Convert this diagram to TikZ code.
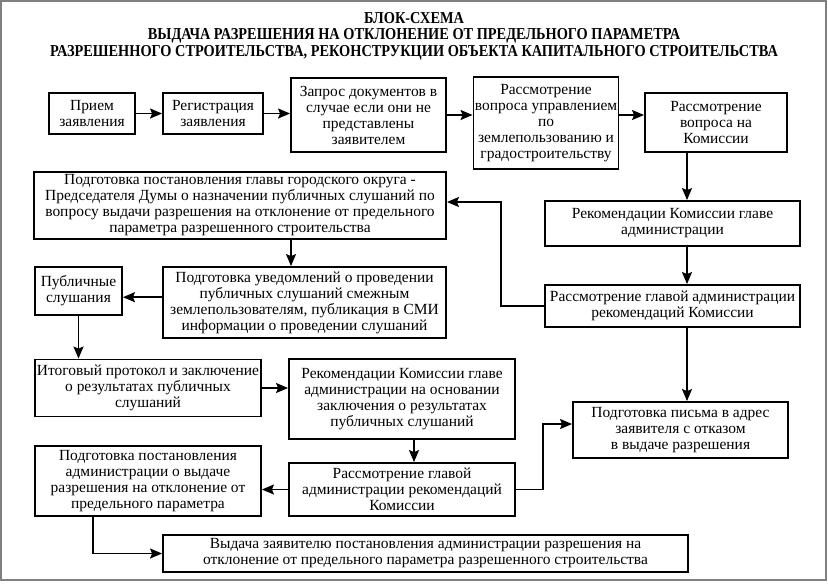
\documentclass[tikz,border=0pt]{standalone}
\usepackage{fontspec}
\setmainfont{Liberation Serif}
\newfontfamily\titlefont[FakeStretch=0.86]{Liberation Serif Bold}
\usetikzlibrary{arrows.meta}

\begin{document}
\begin{tikzpicture}[x=0.75pt, y=-0.75pt,
    blk/.style={draw, line width=1.4pt, align=center, inner sep=1pt,
        font=\fontsize{11.6}{12}\selectfont},
    bsize/.style 2 args={minimum width=#1*0.75pt, minimum height=#2*0.75pt},
    arr/.style={line width=1.2pt, -{Stealth[length=9pt, width=7.5pt, inset=1.5pt]}},
    ttl/.style={font=\titlefont\fontsize{12.5}{13}\selectfont, inner sep=0pt}]

% _____ Canvas and frame
\useasboundingbox (0,0) rectangle (828,583);
\draw[gray, line width=1.2pt] (1,1) rectangle (826,580);

% _____ Title
\node[ttl] (title1) at (414,18) {БЛОК-СХЕМА};
\node[ttl] (title2) at (414,36) {ВЫДАЧА РАЗРЕШЕНИЯ НА ОТКЛОНЕНИЕ ОТ ПРЕДЕЛЬНОГО ПАРАМЕТРА};
\node[ttl] (title3) at (414,53) {РАЗРЕШЕННОГО СТРОИТЕЛЬСТВА, РЕКОНСТРУКЦИИ ОБЪЕКТА КАПИТАЛЬНОГО СТРОИТЕЛЬСТВА};

% _____ First row
\node[blk, bsize={86}{41}]  (priem)  at (92,113.5)  {Прием\\заявления};
\node[blk, bsize={100}{41}] (reg)    at (213,113.5) {Регистрация\\заявления};
\node[blk, bsize={155}{74}] (zapros) at (368.5,115) {Запрос документов в\\случае если они не\\представлены\\заявителем};
\node[blk, bsize={144}{92}] (upr)    at (546,123)   {Рассмотрение\\вопроса управлением\\по\\землепользованию и\\градостроительству};
\node[blk, bsize={142}{59}] (kom)    at (716,122.5) {Рассмотрение\\вопроса на\\Комиссии};

% _____ Right column
\node[blk, bsize={255}{45}] (rekom) at (672.5,223.5) {Рекомендации Комиссии главе\\администрации};
\node[blk, bsize={255}{42}] (rassm) at (672.5,306)   {Рассмотрение главой администрации\\рекомендаций Комиссии};
\node[blk, bsize={215}{56}] (pismo) at (680.5,430)   {Подготовка письма в адрес\\заявителя с отказом\\в выдаче разрешения};

% _____ Public hearings
\node[blk, bsize={412}{67}] (glava) at (240,205.5) {Подготовка постановления главы городского округа -\\Председателя Думы о назначении публичных слушаний по\\вопросу выдачи разрешения на отклонение от предельного\\параметра разрешенного строительства};
\node[blk, bsize={283}{71}] (uved)  at (304.5,302.5) {Подготовка уведомлений о проведении\\публичных слушаний смежным\\землепользователям, публикация в СМИ\\информации о проведении слушаний};
\node[blk, bsize={87}{48}]  (publ)  at (78.5,291) {Публичные\\слушания};

% _____ Lower part
\node[blk, bsize={226}{57}] (itog)    at (148,388)   {Итоговый протокол и заключение\\о результатах публичных\\слушаний};
\node[blk, bsize={226}{80}] (rekomb)  at (402,399)   {Рекомендации Комиссии главе\\администрации на основании\\заключения о результатах\\публичных слушаний};
\node[blk, bsize={226}{70}] (postadm) at (148,481)   {Подготовка постановления\\администрации о выдаче\\разрешения на отклонение от\\предельного параметра};
\node[blk, bsize={226}{53}] (rassmb)  at (402,489.5) {Рассмотрение главой\\администрации рекомендаций\\Комиссии};
\node[blk, bsize={525}{37}] (vydacha) at (425.5,553.5) {Выдача заявителю постановления администрации разрешения на\\отклонение от предельного параметра разрешенного строительства};

% _____ Helper lines
\coordinate (colR)  at (687,0);
\coordinate (colG)  at (291,0);
\coordinate (colK)  at (414,0);
\coordinate (colP)  at (93,0);
\coordinate (backA) at (501,202);
\coordinate (backB) at (543,424);

% _____ Connectors
\draw[arr] (priem.east) -- (reg.west);
\draw[arr] (reg.east) -- (reg.east -| zapros.west);
\draw[arr] (zapros.east) -- (zapros.east -| upr.west);
\draw[arr] (upr.east |- zapros.east) -- (kom.west |- zapros.east);

\draw[arr] (kom.south -| colR) -- (rekom.north -| colR);
\draw[arr] (rekom.south -| colR) -- (rassm.north -| colR);
\draw[arr] (rassm.south -| colR) -- (pismo.north -| colR);

\draw[arr] (rassm.west) -| (backA) -- (backA -| glava.east);
\draw[arr] (glava.south -| colG) -- (uved.north -| colG);
\draw[arr] ([yshift=4pt]uved.west) -- ([yshift=4pt]uved.west -| publ.east);
\draw[arr] (publ.south) -- (publ.south |- itog.north);
\draw[arr] (itog.east) -- (itog.east -| rekomb.west);
\draw[arr] (rekomb.south -| colK) -- (rassmb.north -| colK);
\draw[arr] (rassmb.west) -- (rassmb.west -| postadm.east);
\draw[arr] (rassmb.east) -| (backB) -- (backB -| pismo.west);
\draw[arr] (postadm.south -| colP) |- (vydacha.west);

\end{tikzpicture}
\end{document}
